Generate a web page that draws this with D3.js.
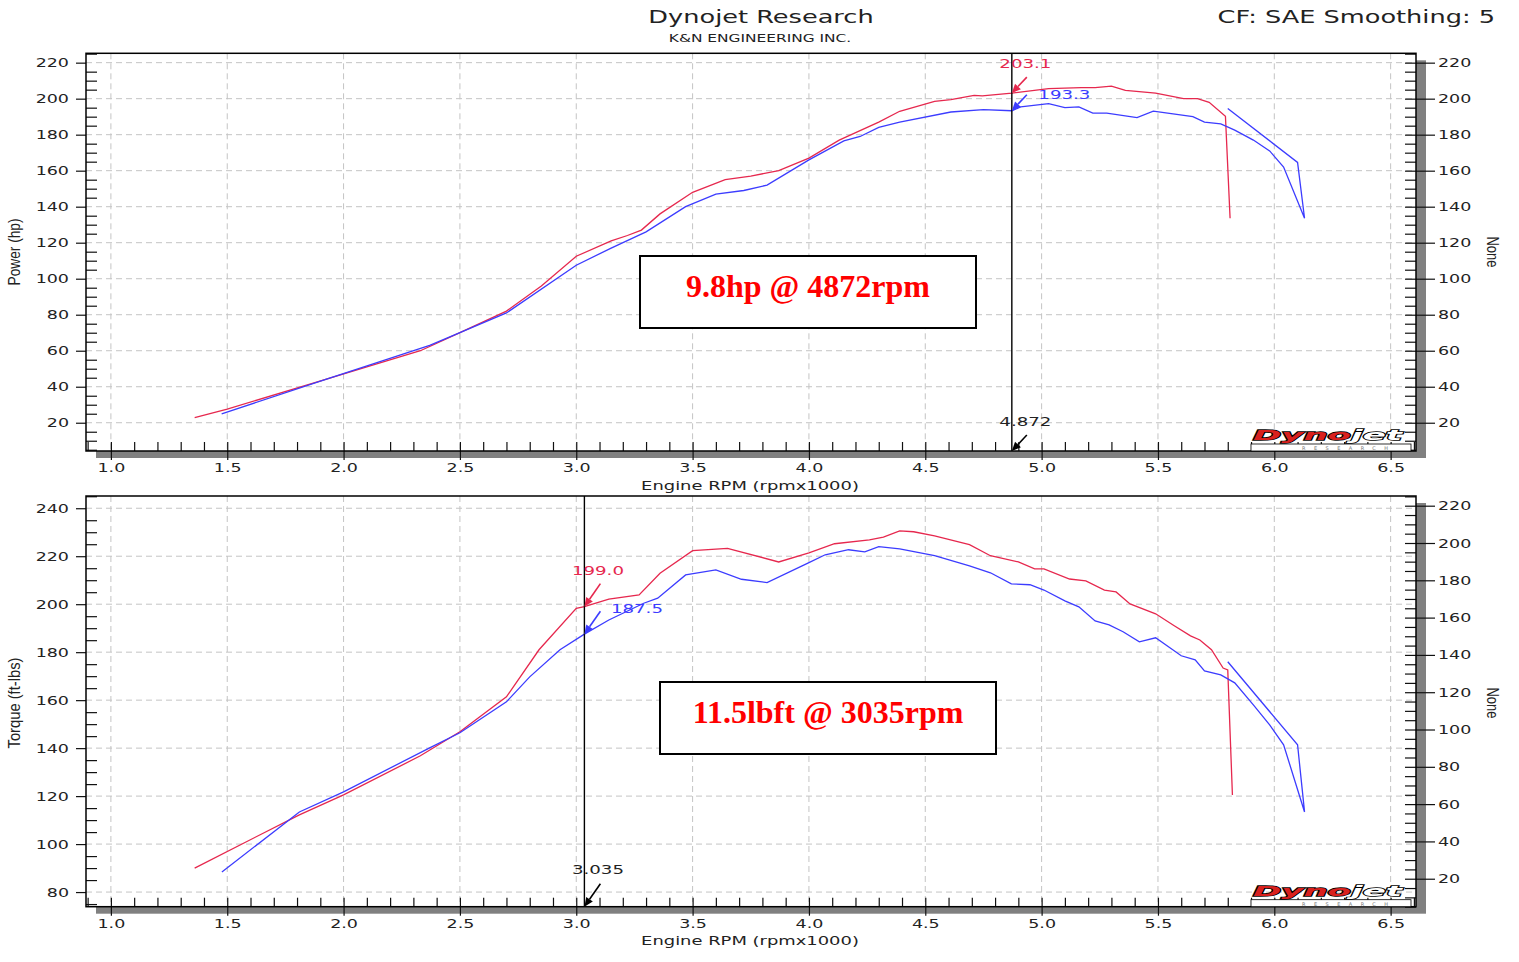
<!DOCTYPE html>
<html>
<head>
<meta charset="utf-8">
<script src="https://cdn.jsdelivr.net/npm/d3@7"></script>
<style>
  body { margin: 0; background: #fff; }
  svg { display: block; }
</style>
</head>
<body>
<div id="chart"></div>
<script>
// ---- data ----
var powerRpmRed = [1.36, 1.5, 1.93, 2.33, 2.5, 2.7, 2.85, 3.0, 3.15, 3.22, 3.28, 3.36, 3.5, 3.64, 3.75, 3.87, 4.0, 4.13, 4.3, 4.39, 4.54, 4.61, 4.71, 4.745, 4.872, 5.03, 5.17, 5.23, 5.30, 5.36, 5.49, 5.61, 5.67, 5.72, 5.79, 5.81];
var powerRed = [22.9, 27.6, 44.4, 60, 70, 82, 96, 112.5, 121, 124, 127, 136, 148, 155, 157, 160, 167, 177, 187, 193, 198.5, 199.5, 201.8, 201.5, 203.1, 205.6, 206.1, 206.1, 207, 204.6, 203.1, 200, 200, 198, 190.2, 133.6];

var powerRpmBlue = [1.476, 1.93, 2.37, 2.5, 2.7, 3.0, 3.15, 3.3, 3.47, 3.6, 3.72, 3.82, 4.0, 4.15, 4.22, 4.3, 4.39, 4.61, 4.75, 4.872, 4.91, 5.03, 5.10, 5.16, 5.22, 5.28, 5.41, 5.48, 5.65, 5.70, 5.77, 5.83, 5.91, 5.98, 6.04, 6.13, 6.10, 5.80];
var powerBlue = [24.9, 44.4, 63, 70, 81, 107.5, 117, 126, 140, 147, 149, 152, 166, 176.5, 179, 184, 187, 192.6, 193.9, 193.3, 195.4, 197.2, 195, 195.4, 192, 192, 189.5, 193.1, 190, 187, 186, 182.5, 177, 171, 162, 133.6, 164.6, 194.5];

var torqueRpmRed = [1.36, 1.81, 2.0, 2.33, 2.5, 2.7, 2.84, 3.0, 3.035, 3.14, 3.27, 3.36, 3.50, 3.65, 3.87, 4.0, 4.11, 4.26, 4.32, 4.39, 4.45, 4.54, 4.69, 4.78, 4.9, 4.97, 5.01, 5.12, 5.19, 5.27, 5.32, 5.38, 5.49, 5.57, 5.64, 5.68, 5.73, 5.78, 5.80, 5.82];
var torqueRed = [90, 112.2, 120.5, 136.8, 146.8, 161.4, 181, 198.3, 199, 202.1, 203.9, 212.9, 222.3, 223.3, 217.6, 221.4, 225.2, 226.8, 228, 230.6, 230.2, 228.5, 224.8, 220.2, 217.6, 214.7, 214.7, 210.5, 209.7, 205.9, 205.1, 200.1, 196, 191, 186.8, 185.1, 181, 173.4, 172.6, 120.5];

var torqueRpmBlue = [1.477, 1.81, 2.0, 2.37, 2.5, 2.7, 2.8, 2.93, 3.035, 3.14, 3.29, 3.35, 3.47, 3.60, 3.71, 3.82, 4.0, 4.07, 4.17, 4.24, 4.30, 4.39, 4.54, 4.69, 4.78, 4.87, 4.95, 5.01, 5.10, 5.16, 5.23, 5.29, 5.35, 5.42, 5.49, 5.60, 5.66, 5.70, 5.77, 5.83, 5.91, 5.98, 6.04, 6.13, 6.10, 5.80];
var torqueBlue = [88.4, 113.4, 121.8, 140.1, 146.4, 159.3, 169.7, 181, 187.5, 193.4, 200.4, 202.5, 212.2, 214.3, 210.4, 209, 217.3, 220.6, 222.7, 221.8, 224, 223.1, 220.2, 216, 213.1, 208.5, 208.1, 205.9, 201.4, 198.9, 193, 191.4, 188.5, 184.3, 186, 178.5, 176.8, 172.2, 170.5, 167.2, 158, 149.7, 141.4, 113.4, 141.4, 176];

var xMajorTicks = [1.0, 1.5, 2.0, 2.5, 3.0, 3.5, 4.0, 4.5, 5.0, 5.5, 6.0, 6.5];
var powerTicks = [20, 40, 60, 80, 100, 120, 140, 160, 180, 200, 220];
var torqueTicks = [80, 100, 120, 140, 160, 180, 200, 220, 240];
var rightTicks = [20, 40, 60, 80, 100, 120, 140, 160, 180, 200, 220];

var powerCursor = { rpm: 4.872, red: 203.1, blue: 193.3, note: "9.8hp @ 4872rpm" };
var torqueCursor = { rpm: 3.035, red: 199.0, blue: 187.5, note: "11.5lbft @ 3035rpm" };

var RED = "#e6284e", BLUE = "#3c3cff";
var SX = 1.4; // the sheet's text is stretched sideways
var NARROW = "'Liberation Sans Narrow', 'Arial Narrow', sans-serif";

/********************************************************/
var svg = d3.select("#chart").append("svg")
  .attr("width", 1519)
  .attr("height", 962)
  .attr("font-family", "'DejaVu Sans', Verdana, sans-serif");

var left = 86, right = 1416;
var xScale = d3.scaleLinear().domain([0.893, 6.609]).range([left, right]);

function stext(g, x, y, str, size, anchor, color) {
  return g.append("text")
    .attr("transform", `translate(${x},${y}) scale(${SX},1)`)
    .attr("text-anchor", anchor || "start")
    .attr("font-size", size)
    .attr("fill", color || "#222")
    .text(str);
}

function stepRange(a, b, s) {
  var out = [];
  for (var v = Math.ceil(a / s - 1e-9) * s; v <= b + 1e-9; v += s) out.push(+v.toFixed(3));
  return out;
}

function arrow(g, tip, dx, dy, color) {
  var tail = [tip[0] + dx, tip[1] + dy];
  var len = Math.hypot(dx, dy), ux = -dx / len, uy = -dy / len;
  var hl = 9, hw = 4;
  var base = [tip[0] - ux * hl, tip[1] - uy * hl];
  g.append("line")
    .attr("x1", tail[0]).attr("y1", tail[1])
    .attr("x2", base[0]).attr("y2", base[1])
    .attr("stroke", color).attr("stroke-width", 1.6);
  g.append("path")
    .attr("d", `M${tip[0]},${tip[1]}L${base[0] - uy * hw},${base[1] + ux * hw}L${base[0] + uy * hw},${base[1] - ux * hw}Z`)
    .attr("fill", color);
}

function drawLogo(g, bottom) {
  g.append("rect")
    .attr("x", 1251).attr("y", bottom - 7)
    .attr("width", 160).attr("height", 7)
    .attr("fill", "#fff").attr("stroke", "#000").attr("stroke-width", 0.8);
  g.append("text")
    .attr("x", 1302).attr("y", bottom - 1)
    .attr("font-size", 5).attr("fill", "#777")
    .attr("textLength", 86).attr("lengthAdjust", "spacing")
    .text("RESEARCH");
  var t = g.append("text")
    .attr("x", 1253).attr("y", bottom - 11)
    .attr("font-size", 14)
    .attr("font-weight", "bold")
    .attr("font-style", "italic")
    .attr("stroke", "#000").attr("stroke-width", 1.3)
    .attr("paint-order", "stroke")
    .attr("textLength", 149).attr("lengthAdjust", "spacingAndGlyphs");
  t.append("tspan").attr("fill", "#d8201e").text("Dyno");
  t.append("tspan").attr("fill", "#fff").text("jet");
}

function drawPanel(p) {
  var g = svg.append("g");
  var h = p.bottom - p.top;
  var yL = d3.scaleLinear().domain(p.leftDomain).range([p.bottom, p.top]);
  var yR = d3.scaleLinear().domain(p.rightDomain).range([p.bottom, p.top]);

  // drop shadow + plot face
  g.append("rect").attr("x", left + 10).attr("y", p.top + 7)
    .attr("width", right - left).attr("height", h).attr("fill", "#808080");
  g.append("rect").attr("x", left).attr("y", p.top)
    .attr("width", right - left).attr("height", h).attr("fill", "#fff");

  // grid
  g.append("g").selectAll("line").data(xMajorTicks).enter().append("line")
    .attr("x1", d => xScale(d)).attr("x2", d => xScale(d))
    .attr("y1", p.top).attr("y2", p.bottom)
    .attr("stroke", "#c4c4c4").attr("stroke-dasharray", "6,4");
  g.append("g").selectAll("line").data(p.leftTicks).enter().append("line")
    .attr("x1", left).attr("x2", right)
    .attr("y1", d => yL(d)).attr("y2", d => yL(d))
    .attr("stroke", "#c4c4c4").attr("stroke-dasharray", "6,4");

  // left axis: majors outward, minors inward
  var lMinor = stepRange(p.leftDomain[0], p.leftDomain[1], 5).filter(v => v % 20 !== 0);
  g.append("g").attr("transform", `translate(${left},0)`)
    .call(d3.axisLeft(yL).tickValues(lMinor).tickSize(-11).tickFormat(""))
    .call(a => a.select(".domain").remove());
  var la = g.append("g").attr("transform", `translate(${left},0)`)
    .call(d3.axisLeft(yL).tickValues(p.leftTicks).tickSize(10).tickFormat(d3.format("d")));
  la.select(".domain").remove();
  la.selectAll("text").attr("x", -17 / SX).attr("transform", `scale(${SX},1)`)
    .attr("font-size", 12.5).attr("font-family", "'DejaVu Sans', Verdana, sans-serif").attr("fill", "#222");

  // right axis: majors both sides, minors inward
  var rMinor = stepRange(p.rightDomain[0], p.rightDomain[1], 5);
  g.append("g").attr("transform", `translate(${right},0)`)
    .call(d3.axisRight(yR).tickValues(rMinor).tickSize(-11).tickFormat(""))
    .call(a => a.select(".domain").remove());
  var ra = g.append("g").attr("transform", `translate(${right},0)`)
    .call(d3.axisRight(yR).tickValues(rightTicks).tickSize(19).tickFormat(d3.format("d")));
  ra.select(".domain").remove();
  ra.selectAll("text").attr("x", 22 / SX).attr("transform", `scale(${SX},1)`)
    .attr("font-size", 12.5).attr("font-family", "'DejaVu Sans', Verdana, sans-serif").attr("fill", "#222");

  // bottom axis
  var xMinor = stepRange(0.9, 6.6, 0.1);
  g.append("g").attr("transform", `translate(0,${p.bottom})`)
    .call(d3.axisBottom(xScale).tickValues(xMinor).tickSize(-9).tickFormat(""))
    .call(a => a.select(".domain").remove());
  var xa = g.append("g").attr("transform", `translate(0,${p.bottom})`)
    .call(d3.axisBottom(xScale).tickValues(xMajorTicks).tickSize(9).tickPadding(3).tickFormat(d3.format(".1f")));
  xa.select(".domain").remove();
  xa.selectAll("text").attr("transform", `scale(${SX},1)`)
    .attr("font-size", 12.5).attr("font-family", "'DejaVu Sans', Verdana, sans-serif").attr("fill", "#222");
  g.selectAll(".tick line").attr("stroke", "#111").attr("stroke-width", 1.2);

  // frame
  g.append("rect").attr("x", left).attr("y", p.top)
    .attr("width", right - left).attr("height", h)
    .attr("fill", "none").attr("stroke", "#000").attr("stroke-width", 1.5);

  drawLogo(g, p.bottom);

  // runs
  var line = d3.line().x(d => xScale(d[0])).y(d => yL(d[1]));
  g.append("path").datum(d3.zip(p.rpmRed, p.red))
    .attr("d", line).attr("fill", "none").attr("stroke", RED).attr("stroke-width", 1.3);
  g.append("path").datum(d3.zip(p.rpmBlue, p.blue))
    .attr("d", line).attr("fill", "none").attr("stroke", BLUE).attr("stroke-width", 1.3);

  // cursor
  var cx = xScale(p.cursor.rpm);
  g.append("line").attr("x1", cx).attr("x2", cx).attr("y1", p.top).attr("y2", p.bottom)
    .attr("stroke", "#000").attr("stroke-width", 1.4);
  var tr = [cx, yL(p.cursor.red)], tb = [cx, yL(p.cursor.blue)];
  arrow(g, tr, p.arr[0], p.arr[1], RED);
  arrow(g, tb, p.arr[0], p.arr[1], BLUE);
  arrow(g, [cx, p.bottom], p.arr[0], p.arr[1], "#000");
  stext(g, cx - 12.5, tr[1] + p.redLab, p.cursor.red.toFixed(1), 13, "start", RED);
  stext(g, cx + 26.5, tb[1] + p.blueLab, p.cursor.blue.toFixed(1), 13, "start", BLUE);
  stext(g, cx - 12.5, p.bottom + p.rpmLab, p.cursor.rpm.toFixed(3), 13, "start", "#222");

  // note box
  g.append("rect").attr("x", p.box[0]).attr("y", p.box[1])
    .attr("width", 336).attr("height", 72)
    .attr("fill", "#fff").attr("stroke", "#000").attr("stroke-width", 2);
  g.append("text").attr("x", p.box[0] + 168).attr("y", p.box[1] + 41)
    .attr("text-anchor", "middle")
    .attr("font-family", "'Liberation Serif', 'Times New Roman', serif")
    .attr("font-weight", "bold").attr("font-size", 32).attr("fill", "#ff0000")
    .text(p.cursor.note);

  // axis titles
  stext(g, 750, p.bottom + 38.5, "Engine RPM (rpmx1000)", 12.8, "middle", "#222");
  g.append("text")
    .attr("transform", `translate(20,${p.labelY}) rotate(-90)`)
    .attr("text-anchor", "middle")
    .attr("font-family", NARROW)
    .attr("font-size", 16).attr("fill", "#222")
    .attr("textLength", p.labelLen).attr("lengthAdjust", "spacingAndGlyphs")
    .text(p.label);
  g.append("text")
    .attr("transform", `translate(1487,${p.labelY}) rotate(90)`)
    .attr("text-anchor", "middle")
    .attr("font-family", NARROW)
    .attr("font-size", 16).attr("fill", "#222")
    .attr("textLength", 31).attr("lengthAdjust", "spacingAndGlyphs")
    .text("None");
}

// titles
stext(svg, 761, 22.7, "Dynojet Research", 18.3, "middle", "#222");
stext(svg, 760, 42.3, "K&N ENGINEERING INC.", 11, "middle", "#222");
stext(svg, 1495, 22.7, "CF: SAE Smoothing: 5", 18.3, "end", "#222");

drawPanel({
  top: 53.3, bottom: 451,
  leftDomain: [4.3, 225.2], rightDomain: [4.3, 225.2],
  leftTicks: powerTicks,
  rpmRed: powerRpmRed, red: powerRed, rpmBlue: powerRpmBlue, blue: powerBlue,
  cursor: powerCursor, arr: [15, -16], redLab: -25, blueLab: -11.7, rpmLab: -25,
  box: [640, 256],
  label: "Power (hp)", labelY: 252, labelLen: 67
});

drawPanel({
  top: 496, bottom: 906.7,
  leftDomain: [73.9, 245.1], rightDomain: [5, 225.2],
  leftTicks: torqueTicks,
  rpmRed: torqueRpmRed, red: torqueRed, rpmBlue: torqueRpmBlue, blue: torqueBlue,
  cursor: torqueCursor, arr: [16, -23], redLab: -31.7, blueLab: -21, rpmLab: -32.4,
  box: [660, 682],
  label: "Torque (ft-lbs)", labelY: 703, labelLen: 91
});
</script>
</body>
</html>
